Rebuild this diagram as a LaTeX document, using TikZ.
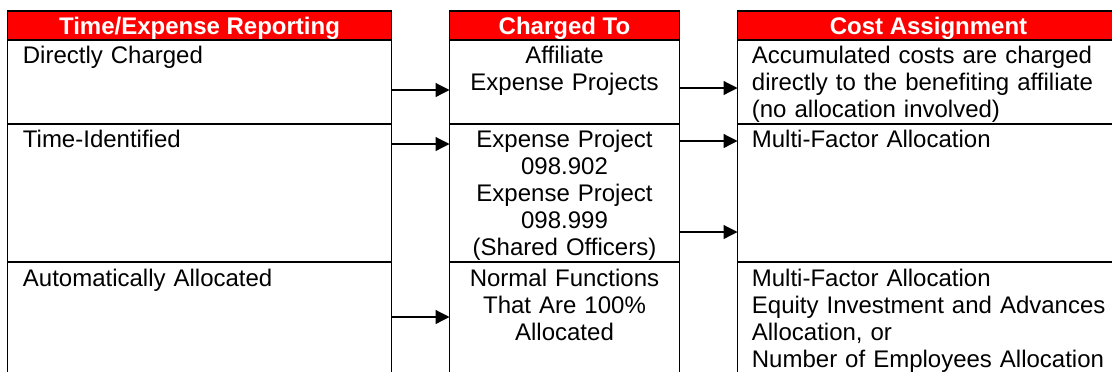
\documentclass[tikz,border=0pt]{standalone}
\usepackage{fontspec}
\setmainfont{Liberation Sans}
\usetikzlibrary{arrows.meta, positioning, calc}
\tikzset{
  cella/.style={draw, line width=0.8pt, inner sep=0pt, outer sep=0pt},
  intestazione/.style={cella, fill=red, text=white, font=\fontsize{12}{13.5}\selectfont\bfseries, minimum height=14.5pt, text height=9pt, text depth=0pt},
  testo/.style={inner sep=0pt, font=\fontsize{12}{13.5}\selectfont, align=left, text width=#1},
  freccia/.style={line width=0.6pt, -{Triangle[length=7pt, width=7pt]}}
}
\begin{document}
\begin{tikzpicture}[x=0.5pt, y=-0.5pt]
    % Parametri
    \pgfmathsetmacro{\largA}{192}
    \pgfmathsetmacro{\largB}{115}
    \pgfmathsetmacro{\largC}{191}
    \pgfmathsetmacro{\spazio}{29}
    \useasboundingbox (0,0) rectangle (1112,371);
    \clip (0,0) rectangle (1112,371);
    % Colonna 1
    \node[intestazione, anchor=north west, minimum width=\largA pt] (rep0) at (7.5,11) {Time/Expense Reporting};
    \node[cella, minimum width=\largA pt, minimum height=42pt, below=0pt of rep0] (rep1) {};
    \node[cella, minimum width=\largA pt, minimum height=69pt, below=0pt of rep1] (rep2) {};
    \node[cella, minimum width=\largA pt, minimum height=64pt, below=0pt of rep2] (rep3) {};
    % Colonna 2
    \node[intestazione, minimum width=\largB pt, right=\spazio pt of rep0] (chg0) {Charged To};
    \node[cella, minimum width=\largB pt, minimum height=42pt, below=0pt of chg0] (chg1) {};
    \node[cella, minimum width=\largB pt, minimum height=69pt, below=0pt of chg1] (chg2) {};
    \node[cella, minimum width=\largB pt, minimum height=64pt, below=0pt of chg2] (chg3) {};
    % Colonna 3
    \node[intestazione, minimum width=\largC pt, right=\spazio pt of chg0] (cost0) {Cost Assignment};
    \node[cella, minimum width=\largC pt, minimum height=42pt, below=0pt of cost0] (cost1) {};
    \node[cella, minimum width=\largC pt, minimum height=69pt, below=0pt of cost1] (cost2) {};
    \node[cella, minimum width=\largC pt, minimum height=64pt, below=0pt of cost2] (cost3) {};
    % Testi
    \node[testo=180pt, anchor=base west] (rep1t) at ($(rep1.north west)+(15,23)$) {Directly Charged};
    \node[testo=180pt, anchor=base west] (rep2t) at ($(rep2.north west)+(15,23)$) {Time-Identified};
    \node[testo=180pt, anchor=base west] (rep3t) at ($(rep3.north west)+(15,24)$) {Automatically Allocated};
    \node[testo=\largB pt, align=center, anchor=base] (chg1t) at ($(chg1.north)+(0,23)$) {Affiliate\\Expense Projects};
    \node[testo=\largB pt, align=center, anchor=base] (chg2t) at ($(chg2.north)+(0,23)$) {Expense Project\\098.902\\Expense Project\\098.999\\(Shared Officers)};
    \node[testo=\largB pt, align=center, anchor=base] (chg3t) at ($(chg3.north)+(0,24)$) {Normal Functions\\That Are 100\%\\Allocated};
    \node[testo=180pt, anchor=base west] (cost1t) at ($(cost1.north west)+(14,23)$) {Accumulated costs are charged\\directly to the benefiting affiliate\\(no allocation involved)};
    \node[testo=180pt, anchor=base west] (cost2t) at ($(cost2.north west)+(14,23)$) {Multi-Factor Allocation};
    \node[testo=180pt, anchor=base west] (cost3t) at ($(cost3.north west)+(14,24)$) {Multi-Factor Allocation\\Equity Investment and Advances\\Allocation, or\\Number of Employees Allocation};
    % Frecce
    \draw[freccia] ([yshift=-25pt]rep1.north east) -- ([yshift=-25pt]chg1.north west);
    \draw[freccia] ([yshift=-10pt]rep2.north east) -- ([yshift=-10pt]chg2.north west);
    \draw[freccia] ([yshift=-27.5pt]rep3.north east) -- ([yshift=-27.5pt]chg3.north west);
    \draw[freccia] ([yshift=-24pt]chg1.north east) -- ([yshift=-24pt]cost1.north west);
    \draw[freccia] ([yshift=-8.5pt]chg2.north east) -- ([yshift=-8.5pt]cost2.north west);
    \draw[freccia] ([yshift=-54pt]chg2.north east) -- ([yshift=-54pt]cost2.north west);
\end{tikzpicture}
\end{document}
